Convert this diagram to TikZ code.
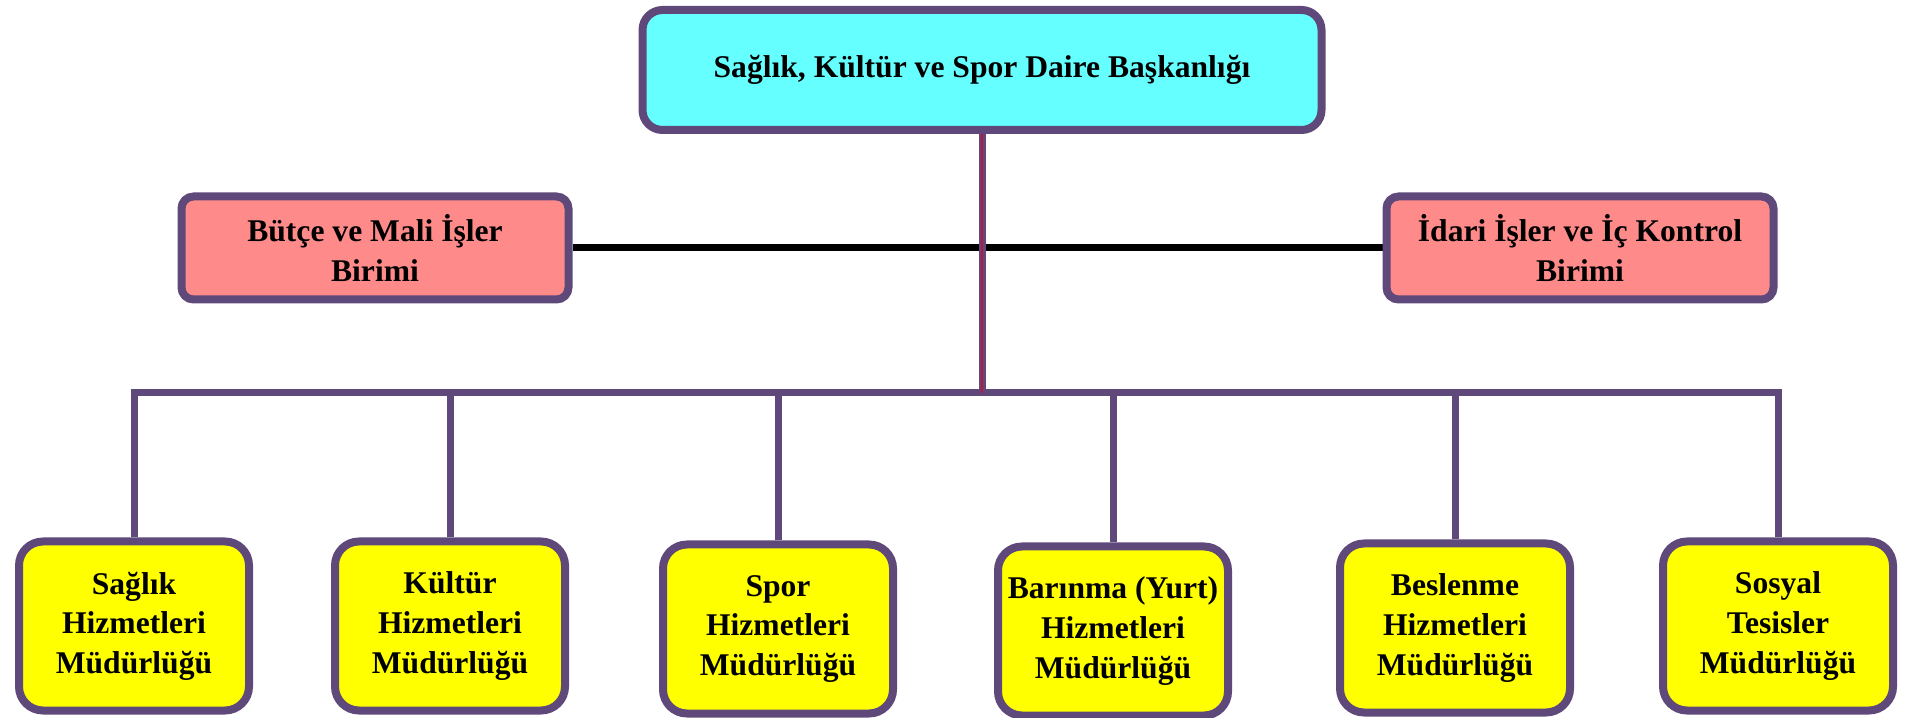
\documentclass[tikz,border=0pt]{standalone}
\usepackage{fontspec}
\setmainfont{Liberation Serif}
\usetikzlibrary{positioning,calc,backgrounds}
\definecolor{orgpurple}{HTML}{5F497A}
\definecolor{orgcyan}{HTML}{66FFFF}
\definecolor{orgpink}{HTML}{FF8A8A}
\definecolor{orgyellow}{HTML}{FFFF00}
\definecolor{orgred}{HTML}{C0143C}

\begin{document}
\begin{tikzpicture}[x=0.5pt, y=0.5pt,
  box/.style={draw=orgpurple, line width=4pt, align=center, inner sep=2pt,
    font=\bfseries\fontsize{15.8}{19.8}\selectfont},
  head/.style={box, fill=orgcyan, rounded corners=10pt, minimum width=339.5pt, minimum height=60pt},
  unit/.style={box, fill=orgpink, rounded corners=6pt, minimum width=193.5pt, minimum height=51.5pt},
  dept/.style={box, fill=orgyellow, rounded corners=12pt, minimum width=115pt, minimum height=84.5pt},
  link/.style={draw=orgpurple, line width=3.5pt}]
\useasboundingbox (0,0) rectangle (1910,717);

\node[head] (n0) at (982,647) {Sağlık, Kültür ve Spor Daire Başkanlığı};
\node[unit] (n01) at (375,469) {Bütçe ve Mali İşler\\Birimi};
\node[unit] (n02) at (1580,469) {İdari İşler ve İç Kontrol\\Birimi};

\node[dept] (n1) at (134,91) {Sağlık\\Hizmetleri\\Müdürlüğü};
\node[dept] (n2) at (450,91) {Kültür\\Hizmetleri\\Müdürlüğü};
\node[dept] (n3) at (778,88) {Spor\\Hizmetleri\\Müdürlüğü};
\node[dept] (n4) at (1113,86) {Barınma (Yurt)\\Hizmetleri\\Müdürlüğü};
\node[dept] (n5) at (1455,89) {Beslenme\\Hizmetleri\\Müdürlüğü};
\node[dept] (n6) at (1778,91) {Sosyal\\Tesisler\\Müdürlüğü};

\coordinate (bus) at (982,324);

\begin{pgfonlayer}{background}
\draw[black, line width=3.5pt] (n01.east) -- (n02.west);
\draw[link] (n1.north) -- (n1.north |- bus) -- (n6.north |- bus) -- (n6.north);
\foreach \n in {n2,n3,n4,n5}
  \draw[link] (\n.north) -- (\n.north |- bus);
\draw[link] (n0.south) -- (bus);
\draw[orgred, line width=1.2pt] (n0.south) -- (bus);
\end{pgfonlayer}
\end{tikzpicture}
\end{document}
